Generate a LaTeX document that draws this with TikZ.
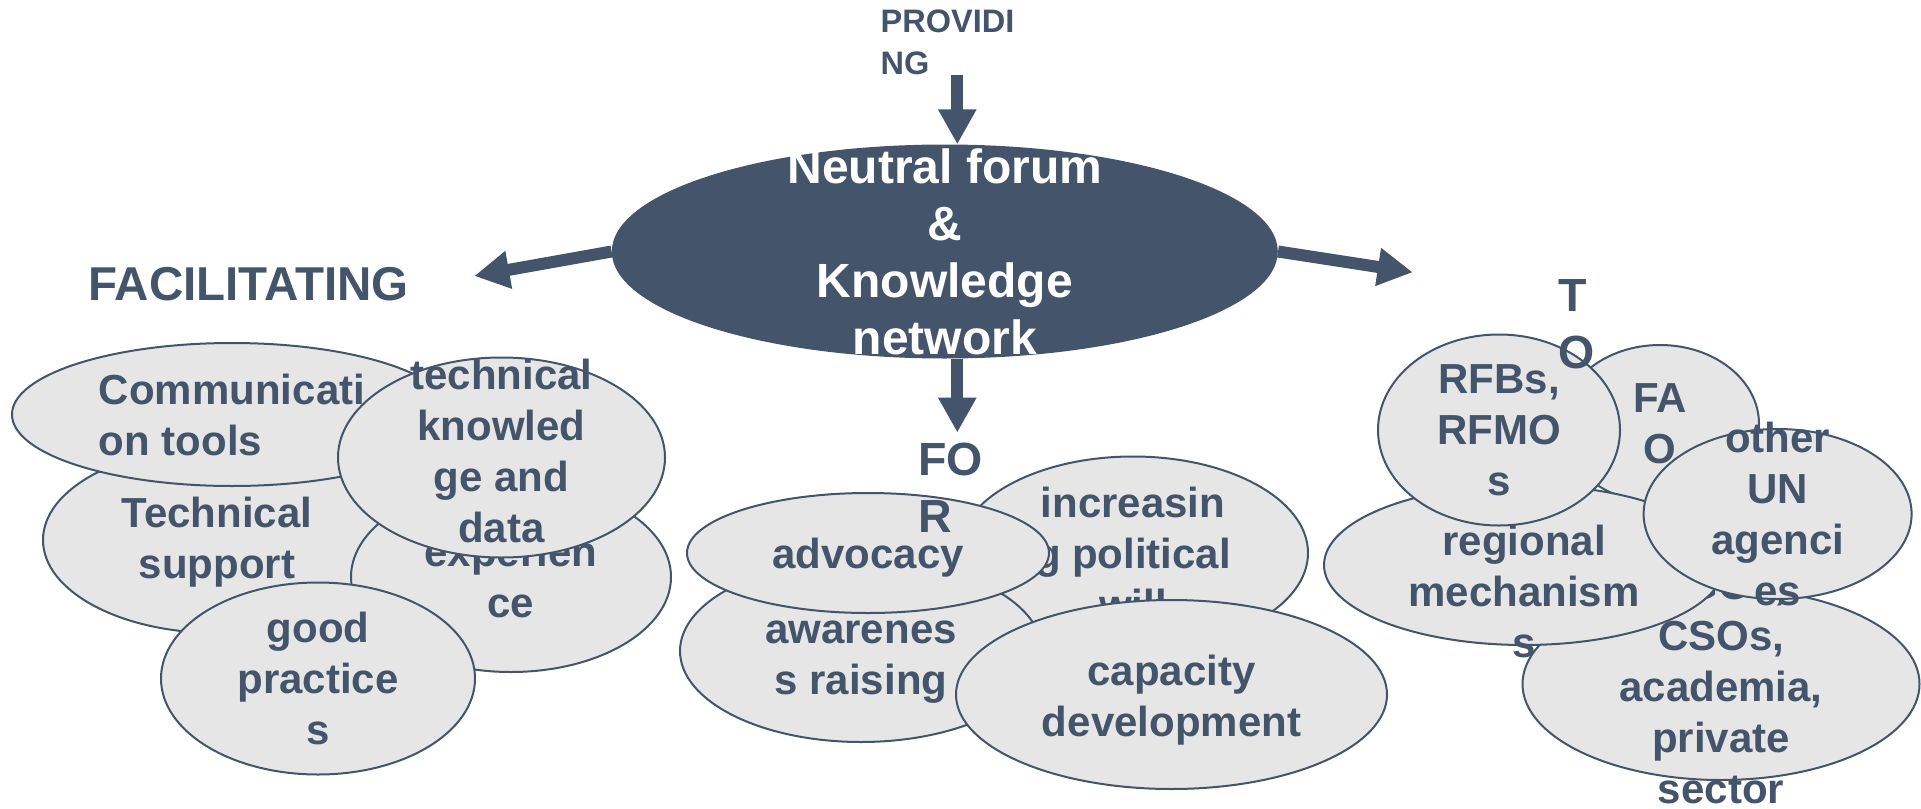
\documentclass[tikz,border=0pt]{standalone}
\usepackage{fontspec}
\setmainfont{Liberation Sans}
\usepackage{xcolor}
\usetikzlibrary{shapes.geometric, arrows.meta}
\definecolor{fcdark}{HTML}{44546A}
\definecolor{fcgray}{HTML}{E6E6E6}

\begin{document}
\begin{tikzpicture}[
    x=1pt, y=-1pt,
    bub/.style={ellipse, draw=fcdark, line width=2pt, fill=fcgray, inner sep=0pt},
    btxt/.style={font=\fontsize{42}{51}\selectfont\bfseries, text=fcdark, align=center, inner sep=0pt},
    cue/.style={font=\fontsize{46.5}{57}\selectfont\bfseries, text=fcdark, align=left, inner sep=0pt},
    arr/.style={-{Triangle[length=35pt, width=36pt]}, line width=12pt, draw=fcdark}
]
    \useasboundingbox (0,0) rectangle (1921,808);

    % Hub
    \node[ellipse, fill=fcdark, minimum width=666pt, minimum height=214pt, inner sep=0pt,
          label={[btxt, text=white, font=\fontsize{48}{57}\selectfont\bfseries]center:{Neutral forum\\\&\\Knowledge\\network}}] (hub) at (944.8,251.5) {};
    \coordinate (axis) at ([xshift=12.5pt]hub.center);

    % Facilitating cluster
    \node[bub, minimum width=348pt, minimum height=186pt, label={[btxt, yshift=-2pt]center:{Technical\\support}}] (techsup) at (217,540) {};
    \node[bub, minimum width=440pt, minimum height=143pt, label={[btxt, align=left]center:{Communicati\\on tools}}] (comm) at (232,414.5) {};
    \node[bub, minimum width=320pt, minimum height=190pt, label={[btxt]center:{experien\\ce}}] (exper) at (511,577) {};
    \node[bub, minimum width=327pt, minimum height=200pt, label={[btxt, yshift=6.5pt]center:{technical\\knowled\\ge and\\data}}] (techknow) at (501.5,457.5) {};
    \node[bub, minimum width=314pt, minimum height=192pt, label={[btxt]center:{good\\practice\\s}}] (goodprac) at (318,678.5) {};

    % For cluster
    \node[bub, minimum width=350pt, minimum height=193pt, label={[btxt]center:{increasin\\g political\\will}}] (incr) at (1133,553) {};
    \node[bub, minimum width=362pt, minimum height=182pt, label={[btxt, yshift=-11pt]center:{awarenes\\s raising}}] (aware) at (861,651) {};
    \node[bub, minimum width=362pt, minimum height=120pt, label={[btxt, yshift=-5pt]center:{advocacy}}] (advoc) at (868,553) {};
    \node[bub, minimum width=431pt, minimum height=189pt, label={[btxt, yshift=-5.5pt]center:{capacity\\development}}] (capdev) at (1171.5,694.5) {};

    % To cluster
    \node[bub, minimum width=198pt, minimum height=158pt, label={[btxt]center:{FA\\O}}] (fao) at (1660,424) {};
    \node[bub, minimum width=397pt, minimum height=192pt, label={[btxt, yshift=-3pt]center:{NGOs,\\CSOs,\\academia,\\private\\sector}}] (csos) at (1721,684) {};
    \node[bub, minimum width=400pt, minimum height=160pt, label={[btxt, yshift=-26pt]center:{regional\\mechanism\\s}}] (regmech) at (1524,565) {};
    \node[bub, minimum width=242pt, minimum height=191pt, label={[btxt]center:{RFBs,\\RFMO\\s}}] (rfbs) at (1499,430) {};
    \node[bub, minimum width=268pt, minimum height=170pt, label={[btxt]center:{other\\UN\\agenci\\es}}] (otherun) at (1777.6,514) {};

    % Cue words
    \node[cue, font=\fontsize{32.5}{41.7}\selectfont\bfseries, anchor=west] (provlbl) at (880.5,42) {PROVIDI\\NG};
    \node[cue, font=\fontsize{47.5}{57}\selectfont\bfseries] (faclbl) at (248.4,284.5) {FACILITATING};
    \node[cue, anchor=west] (forlbl) at (918,487.5) {FO\\R};
    \node[cue, anchor=west] (tolbl) at (1558,324) {T\\O};

    % Arrows
    \coordinate (factip) at (474.3,276);
    \coordinate (totip) at (1412.7,272.3);
    \draw[arr] (hub.west) -- (factip);
    \draw[arr] (hub.east) -- (totip);
    \draw[arr] (provlbl.south -| axis) -- (hub.north -| axis);
    \draw[arr, shorten >=10pt] (hub.south -| axis) -- (forlbl.north -| axis);
\end{tikzpicture}
\end{document}
